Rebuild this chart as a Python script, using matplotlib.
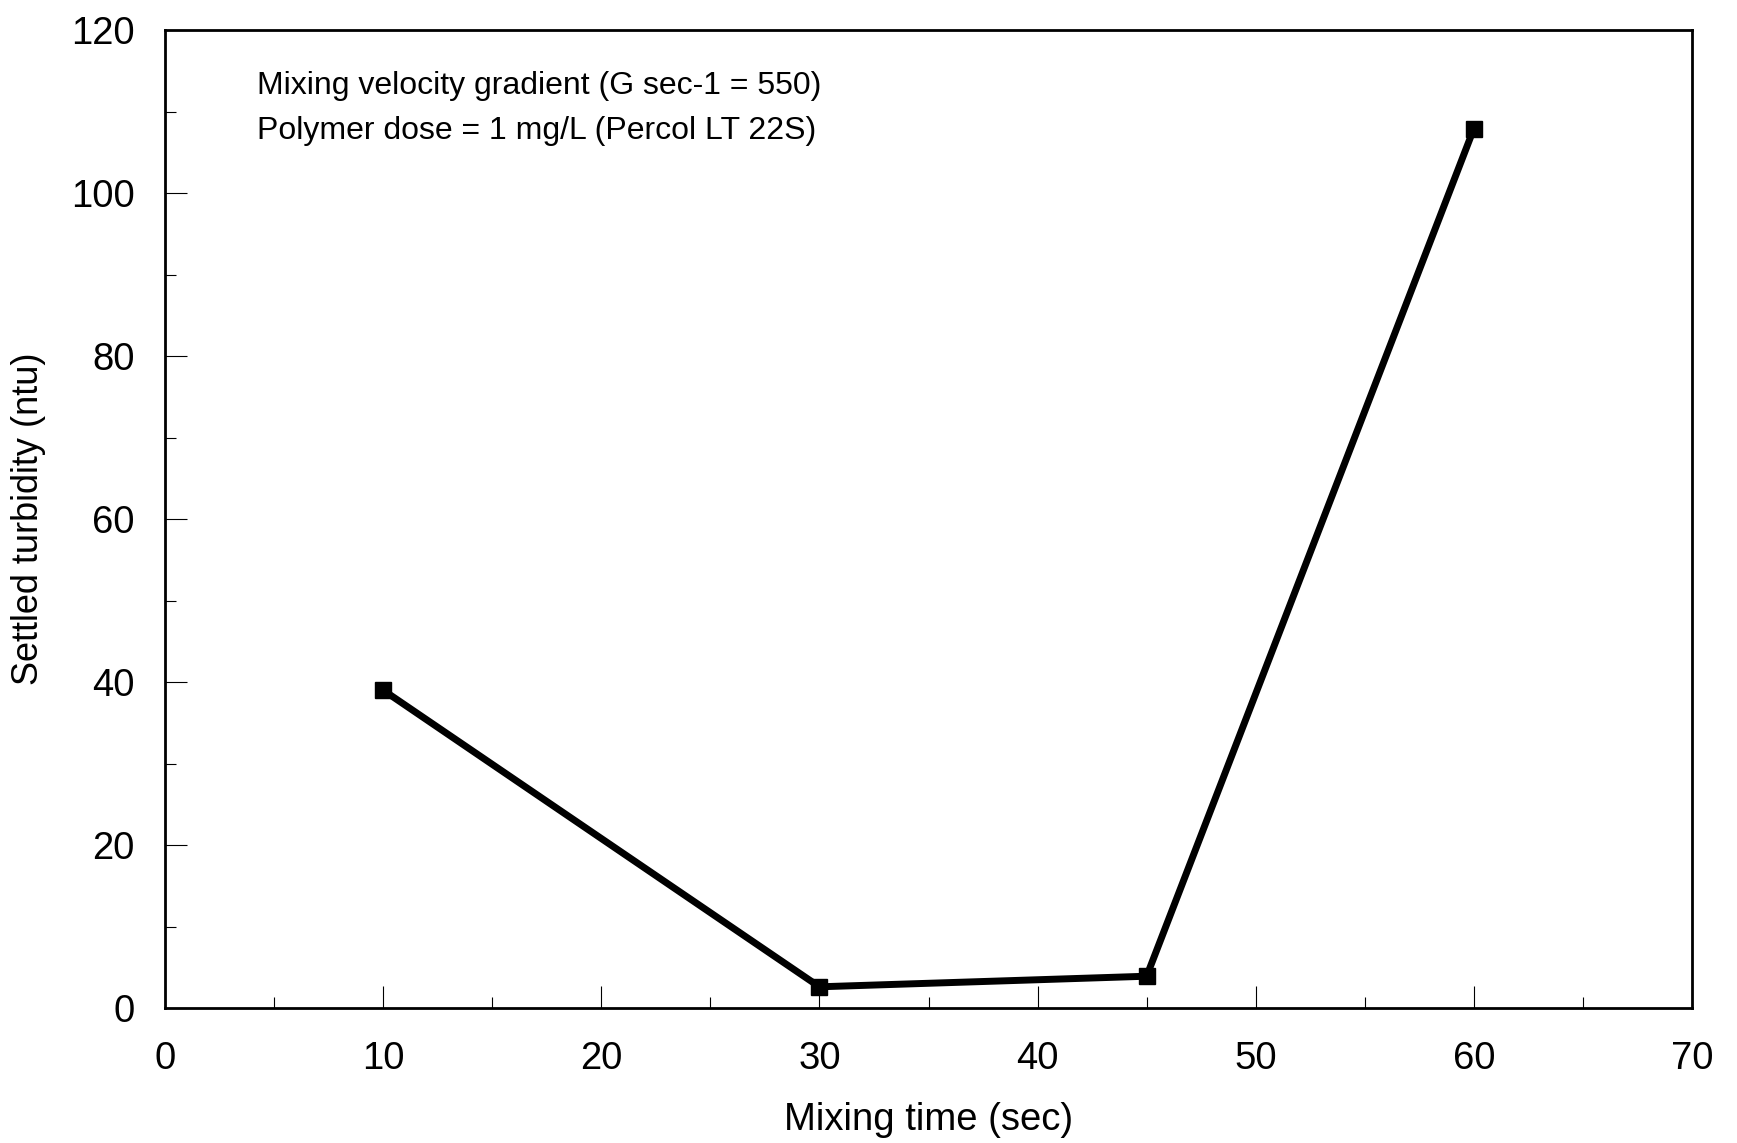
import matplotlib
matplotlib.use('Agg')
import matplotlib.pyplot as plt
from matplotlib.ticker import MultipleLocator

mixing_time = [10, 30, 45, 60]
turbidity = [39, 2.6, 3.9, 107.9]

plt.rcParams['font.family'] = ['Liberation Sans', 'DejaVu Sans']

fig = plt.figure(figsize=(17.37, 11.43), dpi=100)
ax = fig.add_axes([165 / 1737, 1 - 1008 / 1143, (1692 - 165) / 1737, (1008 - 30) / 1143])

ax.plot(mixing_time, turbidity, color='black', linewidth=5, marker='s',
        markersize=12, markerfacecolor='black', markeredgecolor='black', clip_on=False)

ax.set_xlim(0, 70)
ax.set_ylim(0, 120)
ax.xaxis.set_major_locator(MultipleLocator(10))
ax.xaxis.set_minor_locator(MultipleLocator(5))
ax.yaxis.set_major_locator(MultipleLocator(20))
ax.yaxis.set_minor_locator(MultipleLocator(10))
ax.tick_params(which='major', direction='in', length=16, width=0.8, labelsize=27.5)
ax.tick_params(which='minor', direction='in', length=8, width=0.8)
ax.tick_params(axis='x', pad=24)
ax.tick_params(axis='y', pad=22)
for s in ax.spines.values():
    s.set_linewidth(2)

ax.set_xlabel('Mixing time (sec)', fontsize=27.5, labelpad=18)
ax.set_ylabel('Settled turbidity (ntu)', fontsize=26)
ax.yaxis.label.set_va('center')
ax.yaxis.set_label_coords(-0.0897, 0.5)

ax.text(0.06, 0.935, 'Mixing velocity gradient (G sec-1 = 550)', transform=ax.transAxes,
        fontsize=23, va='baseline')
ax.text(0.06, 0.889, 'Polymer dose = 1 mg/L (Percol LT 22S)', transform=ax.transAxes,
        fontsize=23, va='baseline')

fig.savefig('out.png', dpi=100)
